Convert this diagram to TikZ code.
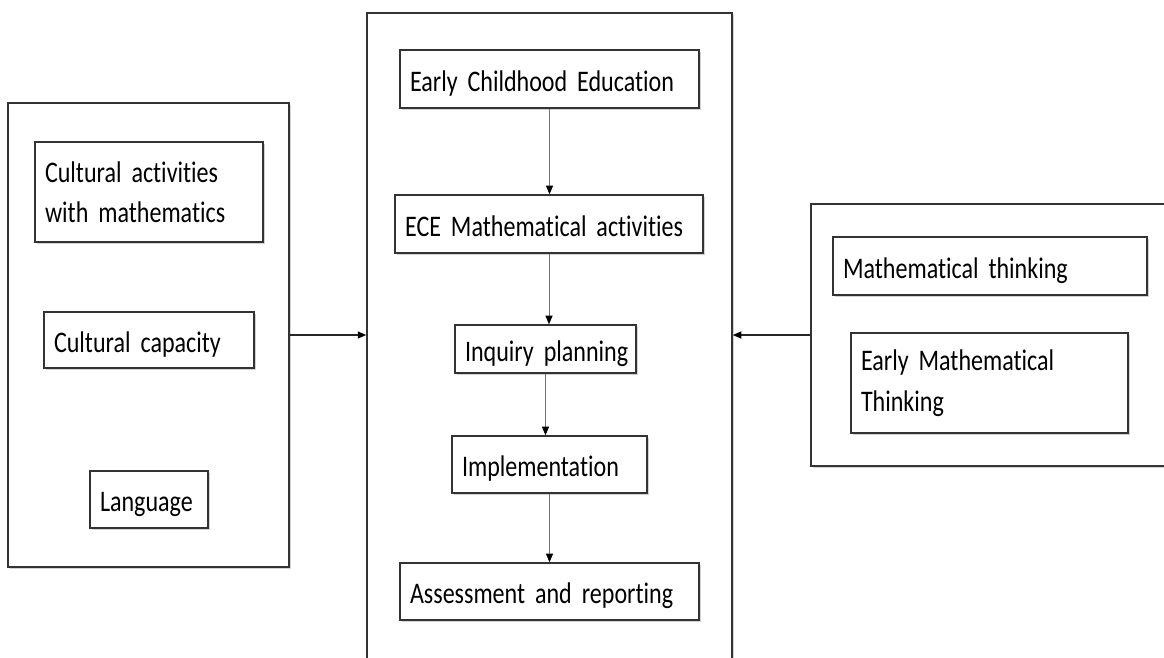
\documentclass[tikz,border=0pt]{standalone}
\usepackage{fontspec}
\setmainfont{Carlito}[FakeStretch=0.805, RawFeature=-liga]
\usepackage{tikz}
\usetikzlibrary{arrows.meta}
\usetikzlibrary{shadows}
\hyphenpenalty=10000
\protected\def\tightsp{\spaceskip=0.2em plus 0.1em\relax}

\begin{document}
\begin{tikzpicture}[x=0.02cm, y=-0.02cm,
	frame/.style={draw=black!80, line width=0.9pt, fill=white, inner sep=0pt,
		drop shadow={shadow xshift=0.04cm, shadow yshift=-0.04cm, opacity=0.35}},
	inbox/.style={frame, align=left, inner xsep=0.2cm, inner ysep=0pt,
		font=\fontsize{17}{23}\selectfont\tightsp},
	oneline/.style={inbox, text height=0.5cm, text depth=0.02cm},
	flow/.style={draw=black!55, line width=0.5pt, -{Triangle[length=0.17cm, width=0.14cm, color=black]}},
	link/.style={draw=black!85, line width=0.8pt, -{Triangle[length=0.17cm, width=0.14cm, color=black]}}]
\clip (0,0) rectangle (1164,657);

% the three groups
\node[frame, minimum width=5.62cm, minimum height=9.28cm] (leftbox) at (148.5,335) {};
\node[frame, minimum width=7.3cm, minimum height=13.54cm] (centerbox) at (549.5,351.5) {};
\node[frame, minimum width=7.58cm, minimum height=5.24cm] (rightbox) at (1000.5,335) {};

% culture side
\node[inbox, text width=4.16cm, minimum height=2cm] (cam) at (149,192) {Cultural activities\\with mathematics};
\node[oneline, text width=3.8cm, minimum height=1.12cm] (cap) at (149,340) {Cultural capacity};
\node[oneline, text width=1.96cm, minimum height=1.14cm] (lang) at (149,499.5) {Language};

% ECE steps
\node[oneline, text width=5.58cm, minimum height=1.16cm] (ece) at (549.5,79) {Early Childhood Education};
\node[oneline, text width=5.76cm, minimum height=1.16cm] (ecema) at (549,224) {ECE Mathematical activities};
\node[oneline, text width=3.22cm, minimum height=0.96cm] (inq) at (545.5,349) {\mbox{Inquiry planning}};
\node[oneline, text width=3.5cm, minimum height=1.14cm] (impl) at (549.5,464.5) {Implementation};
\node[oneline, text width=5.58cm, minimum height=1.14cm] (assess) at (549.5,591.5) {Assessment and reporting};

% thinking side
\node[oneline, text width=5.88cm, minimum height=1.16cm] (mt) at (990,266) {Mathematical thinking};
\node[inbox, text width=5.14cm, minimum height=2cm] (emt) at (989.5,383) {Early Mathematical\\Thinking};

\path
(ece.south) edge[flow] (ece.south |- ecema.north)
(ecema.south) edge[flow] (ecema.south |- inq.north)
(inq.south) edge[flow] (inq.south |- impl.north)
(impl.south) edge[flow] (impl.south |- assess.north)
(leftbox.east) edge[link] (leftbox.east -| centerbox.west)
(rightbox.west) edge[link] (rightbox.west -| centerbox.east);
\end{tikzpicture}
\end{document}
